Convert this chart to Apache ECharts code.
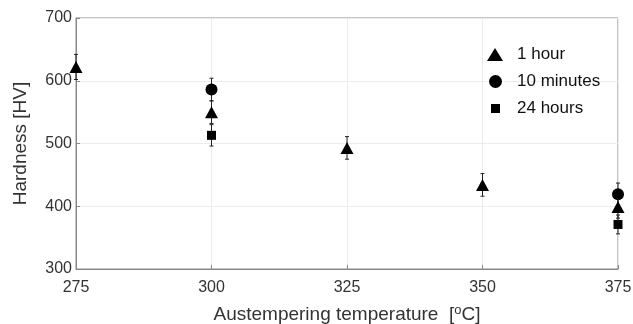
<!DOCTYPE html>
<html>
<head>
<meta charset="utf-8">
<script src="https://cdn.jsdelivr.net/npm/echarts@6/dist/echarts.min.js"></script>
<style>html,body{margin:0;padding:0;background:#fff}#c{width:633px;height:324px}</style>
</head>
<body>
<div id="c"></div>
<script>
var xTicks = [275, 300, 325, 350, 375];
var yTicks = [300, 400, 500, 600, 700];
var seriesNames = ['1 hour', '10 minutes', '24 hours'];
// [temperature, mean, error]
var oneHour = [[275, 622, 20], [300, 550, 18], [325, 493, 18], [350, 434, 18], [375, 399, 18]];
var tenMinutes = [[300, 586, 18], [375, 419, 18]];
var twentyFourHours = [[300, 513, 17], [375, 371, 15]];

var font = 'Liberation Sans, Arial, sans-serif';
var chart = echarts.init(document.getElementById('c'));

function errSeries(data, name) {
  return {
    type: 'custom',
    name: name + ' err',
    data: data,
    z: 1,
    silent: true,
    clip: false,
    encode: {x: 0, y: 1},
    renderItem: function (params, api) {
      var x = api.value(0), y = api.value(1), e = api.value(2);
      var top = api.coord([x, y + e]);
      var bot = api.coord([x, y - e]);
      var w = 2;
      var st = {stroke: '#222', lineWidth: 1};
      return {
        type: 'group',
        children: [
          {type: 'line', shape: {x1: top[0], y1: top[1], x2: bot[0], y2: bot[1]}, style: st},
          {type: 'line', shape: {x1: top[0] - w, y1: top[1], x2: top[0] + w, y2: top[1]}, style: st},
          {type: 'line', shape: {x1: bot[0] - w, y1: bot[1], x2: bot[0] + w, y2: bot[1]}, style: st}
        ]
      };
    }
  };
}

function legendFor(name, icon, w, h, left, top, pad) {
  return {
    orient: 'vertical',
    left: left,
    top: top,
    padding: 0,
    itemWidth: w,
    itemHeight: h,
    selectedMode: false,
    textStyle: {fontSize: 17, color: '#111', fontFamily: font, padding: [0, 0, 0, pad]},
    data: [{name: name, icon: icon, itemStyle: {color: '#000', opacity: 1}}]
  };
}

chart.setOption({
  animation: false,
  textStyle: {fontFamily: font},
  grid: {left: 76, right: 15, top: 18, bottom: 55, outerBoundsMode: 'none', containLabel: false,
    show: true, borderColor: '#888', borderWidth: 1, backgroundColor: 'transparent'},
  legend: [
    legendFor(seriesNames[0], 'triangle', 16, 13, 487, 46, 9),
    legendFor(seriesNames[1], 'circle', 13, 13, 489, 73, 10),
    legendFor(seriesNames[2], 'rect', 9, 9, 491, 100, 12)
  ],
  xAxis: {
    type: 'value',
    min: xTicks[0],
    max: xTicks[xTicks.length - 1],
    interval: 25,
    name: 'Austempering temperature  [{sup|o}C]',
    nameLocation: 'middle',
    nameGap: 35,
    nameTextStyle: {
      fontSize: 19, color: '#333', fontFamily: font,
      rich: {sup: {fontSize: 13, verticalAlign: 'top', padding: [0, 0, 9, 0], color: '#333', fontFamily: font}}
    },
    axisLine: {show: true, lineStyle: {color: '#888'}},
    axisTick: {show: true, inside: true, length: 4, lineStyle: {color: '#888'}},
    axisLabel: {fontSize: 16, color: '#333', margin: 11},
    splitLine: {show: true, lineStyle: {color: '#ececec'}}
  },
  yAxis: {
    type: 'value',
    min: yTicks[0],
    max: yTicks[yTicks.length - 1],
    interval: 100,
    name: 'Hardness [HV]',
    nameLocation: 'middle',
    nameGap: 46,
    nameTextStyle: {fontSize: 19, color: '#333', fontFamily: font},
    axisLine: {show: true, lineStyle: {color: '#888'}},
    axisTick: {show: true, inside: true, length: 4, lineStyle: {color: '#888'}},
    axisLabel: {fontSize: 16, color: '#333', margin: 4},
    splitLine: {show: true, lineStyle: {color: '#ececec'}}
  },
  series: [
    errSeries(oneHour, seriesNames[0]),
    errSeries(tenMinutes, seriesNames[1]),
    errSeries(twentyFourHours, seriesNames[2]),
    {type: 'scatter', name: seriesNames[0], symbol: 'triangle', symbolSize: [13, 12], data: oneHour, clip: false, z: 3,
      itemStyle: {color: '#000', opacity: 1}, encode: {x: 0, y: 1}},
    {type: 'scatter', name: seriesNames[1], symbol: 'circle', symbolSize: 12, data: tenMinutes, clip: false, z: 3,
      itemStyle: {color: '#000', opacity: 1}, encode: {x: 0, y: 1}},
    {type: 'scatter', name: seriesNames[2], symbol: 'rect', symbolSize: 9, data: twentyFourHours, clip: false, z: 3,
      itemStyle: {color: '#000', opacity: 1}, encode: {x: 0, y: 1}}
  ]
});
</script>
</body>
</html>
